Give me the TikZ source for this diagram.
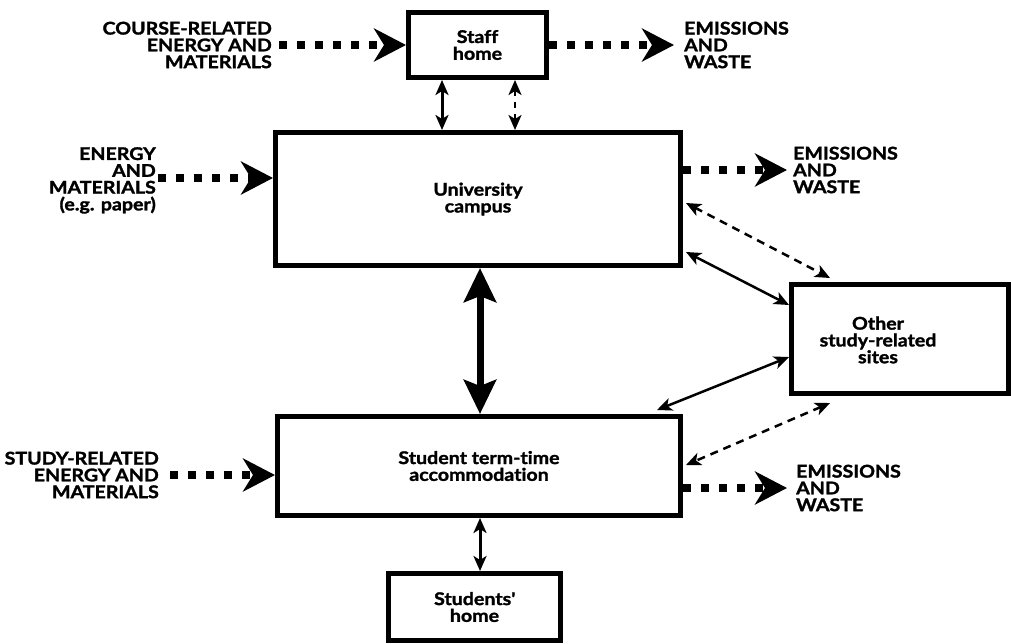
\documentclass[tikz,border=0pt]{standalone}
\usepackage{fontspec}
\setmainfont{Lato}[Ligatures={NoCommon},BoldFeatures={FakeBold=1.6,FakeStretch=1.12}]
\usetikzlibrary{arrows.meta,calc}
\begin{document}
\begin{tikzpicture}[x=1pt,y=-1pt,
  box/.style={draw,line width=5pt,inner sep=0pt,align=center,font=\fontsize{17.5}{16.8}\selectfont\bfseries},
  lbl/.style={inner sep=0pt,font=\fontsize{17.5}{16.8}\selectfont\bfseries},
  flow/.style={line width=8pt,dash pattern=on 8pt off 10pt,-{Stealth[length=32pt,width=33pt,inset=10pt]}},
  link/.style={line width=2.5pt,{Stealth[length=15pt,width=13pt,inset=4pt]}-{Stealth[length=15pt,width=13pt,inset=4pt]}},
  dlink/.style={link,dash pattern=on 8pt off 6pt},
  biglink/.style={line width=7pt,{Stealth[length=34pt,width=32pt,inset=6pt]}-{Stealth[length=34pt,width=32pt,inset=6pt]}}]
\useasboundingbox (0,0) rectangle (1011,643);
% boxes
\node[box,minimum width=138pt,minimum height=65pt] (staff) at (477.5,45) {Staff\\home};
\node[box,minimum width=405pt,minimum height=133pt] (campus) at (478,199) {University\\campus};
\node[box,minimum width=216.5pt,minimum height=109pt] (other) at (899.75,339) {};
\node[lbl,align=center] (otherlbl) at (878,340) {Other\\study-related\\sites};
\node[box,minimum width=403pt,minimum height=99pt] (accom) at (479,466) {Student term-time\\accommodation};
\node[box,minimum width=172pt,minimum height=67pt] (shome) at (474.5,607) {Students\textquotesingle\\home};
% labels
\node[lbl,align=right,anchor=east] (in1) at (272,45) {COURSE-RELATED\\ENERGY AND\\MATERIALS};
\node[lbl,align=left,anchor=west] (out1) at (684,45) {EMISSIONS\\AND\\WASTE};
\node[lbl,align=right,anchor=north east] (in2) at (156,147) {ENERGY\\AND\\MATERIALS\\(e.g. paper)};
\node[lbl,align=left,anchor=west] (out2) at (793,170) {EMISSIONS\\AND\\WASTE};
\node[lbl,align=right,anchor=east] (in3) at (159,475) {STUDY-RELATED\\ENERGY AND\\MATERIALS};
\node[lbl,align=left,anchor=west] (out3) at (796,488) {EMISSIONS\\AND\\WASTE};
% coordinates
\coordinate (c1) at (279,45);
\coordinate (c2) at (674,45);
\coordinate (c3) at (158,178);
\coordinate (c4) at (787,170);
\coordinate (c5) at (170,475);
\coordinate (c6) at (787,488);
\coordinate (v1) at (442,0);
\coordinate (v2) at (515,0);
\coordinate (v3) at (480,0);
\coordinate (d1) at (686,203);
\coordinate (d2) at (830,278);
\coordinate (d3) at (686,252);
\coordinate (d4) at (789,305);
\coordinate (d5) at (789,357);
\coordinate (d6) at (657,410);
\coordinate (d7) at (830,403);
\coordinate (d8) at (686,465);
% flows
\draw[flow] (c1) -- (staff.west);
\draw[flow] (staff.east) -- (c2);
\draw[flow] (c3) -- (campus.west |- c3);
\draw[flow] (campus.east |- c4) -- (c4);
\draw[flow] (c5) -- (accom.west |- c5);
\draw[flow] (accom.east |- c6) -- (c6);
% links
\draw[link,line width=3pt] (staff.south -| v1) -- (campus.north -| v1);
\draw[dlink,dash pattern=on 6pt off 6pt] (staff.south -| v2) -- (campus.north -| v2);
\draw[biglink] (campus.south -| v3) -- (accom.north -| v3);
\draw[link,line width=3pt] (accom.south -| v3) -- (shome.north -| v3);
\draw[dlink] (d1) -- (d2);
\draw[link] (d3) -- (d4);
\draw[link] (d5) -- (d6);
\draw[dlink] (d7) -- (d8);
\end{tikzpicture}
\end{document}
